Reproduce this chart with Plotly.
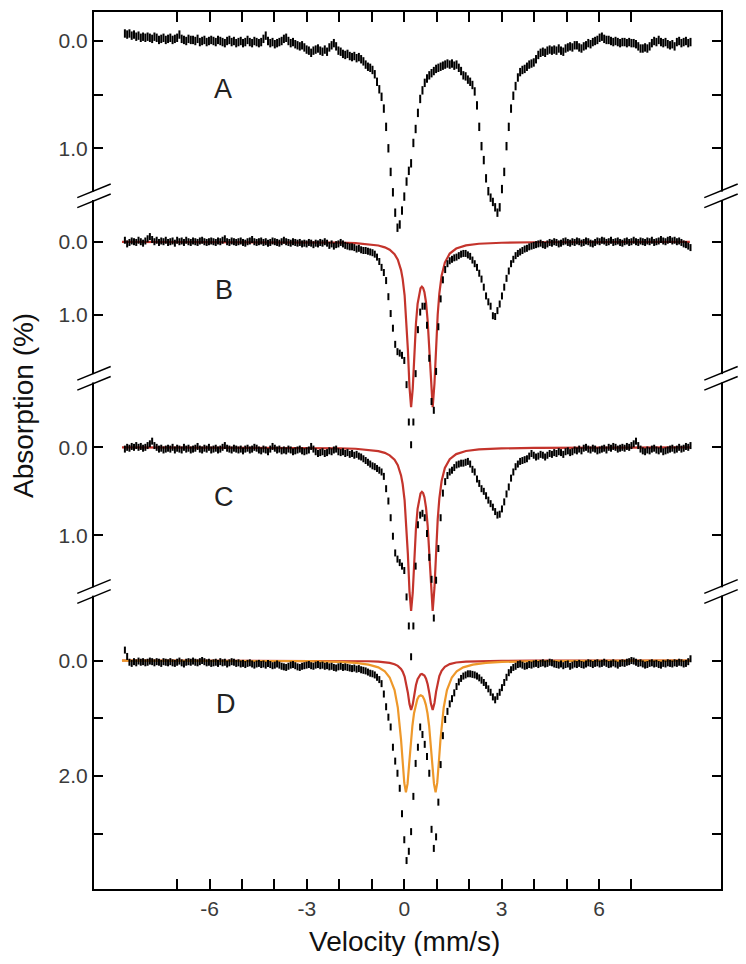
import plotly.graph_objects as go

# ---------------- data ----------------
VEL_START = -8.61   # mm/s, first channel
VEL_STEP = 0.07     # mm/s per channel

A_ABS = [
    -0.07, -0.06, -0.07, -0.05, -0.06, -0.04, -0.05, -0.03, -0.04, -0.03,
    -0.04, -0.03, -0.02, -0.04, -0.03, -0.01, -0.02, -0.03, -0.01, -0.02,
    -0.03, -0.01, -0.02, -0.03, -0.06, -0.02, -0.01, 0.00, -0.02, -0.01,
    -0.01, 0.00, -0.02, 0.01, 0.00, -0.01, 0.01, 0.00, -0.01, 0.00,
    0.01, -0.01, 0.00, 0.01, 0.02, 0.00, -0.01, 0.01, 0.00, 0.02,
    0.01, 0.00, 0.02, 0.01, -0.01, 0.01, 0.02, 0.00, 0.01, 0.02,
    0.01, -0.02, -0.05, 0.00, 0.02, 0.01, 0.03, 0.02, 0.01, 0.00,
    -0.02, -0.03, 0.00, 0.02, 0.01, 0.03, 0.04, 0.05, 0.04, 0.06,
    0.08, 0.09, 0.11, 0.09, 0.08, 0.07, 0.09, 0.10, 0.08, 0.10,
    0.06, 0.04, 0.02, 0.05, 0.09, 0.10, 0.12, 0.13, 0.12, 0.14,
    0.15, 0.14, 0.16, 0.15, 0.17, 0.19, 0.22, 0.24, 0.25, 0.27,
    0.31, 0.38, 0.45, 0.52, 0.63, 0.80, 1.00, 1.22, 1.41, 1.60,
    1.74, 1.71, 1.58, 1.45, 1.31, 1.21, 1.14, 0.95, 0.82, 0.67,
    0.54, 0.46, 0.39, 0.35, 0.32, 0.30, 0.28, 0.26, 0.25, 0.24,
    0.23, 0.22, 0.21, 0.22, 0.21, 0.23, 0.22, 0.25, 0.28, 0.32,
    0.33, 0.36, 0.38, 0.41, 0.47, 0.60, 0.80, 0.98, 1.11, 1.28,
    1.40, 1.46, 1.50, 1.55, 1.60, 1.55, 1.38, 1.22, 0.98, 0.80,
    0.63, 0.51, 0.42, 0.34, 0.29, 0.27, 0.26, 0.24, 0.22, 0.21,
    0.20, 0.17, 0.13, 0.11, 0.10, 0.11, 0.09, 0.08, 0.09, 0.08,
    0.09, 0.07, 0.09, 0.10, 0.07, 0.06, 0.05, 0.06, 0.04, 0.04,
    0.06, 0.07, 0.05, 0.04, 0.02, 0.03, 0.01, 0.00, -0.01, -0.03,
    -0.04, -0.02, -0.01, -0.01, 0.00, 0.01, 0.00, 0.01, 0.02, 0.01,
    0.01, 0.02, 0.01, 0.02, 0.02, 0.03, 0.05, 0.07, 0.07, 0.06,
    0.07, 0.05, 0.02, 0.00, 0.01, -0.01, 0.01, 0.02, 0.01, 0.03,
    0.04, 0.03, 0.05, 0.01, 0.00, 0.02, 0.01, 0.00, 0.02, 0.01,
]

B_ABS = [
    -0.02, 0.03, 0.01, -0.01, 0.00, 0.01, -0.02, 0.00, 0.02, -0.01,
    -0.04, -0.07, -0.03, 0.00, -0.02, 0.01, -0.01, 0.00, -0.02, 0.01,
    0.00, -0.01, 0.02, -0.02, 0.00, -0.01, 0.01, -0.02, 0.00, 0.01,
    -0.01, 0.00, 0.01, -0.01, -0.02, 0.00, 0.01, 0.00, -0.01, 0.00,
    0.01, -0.01, 0.00, -0.02, -0.04, 0.00, 0.01, -0.01, 0.00, 0.01,
    0.00, -0.01, 0.01, 0.02, 0.00, -0.01, -0.03, 0.00, 0.01, 0.00,
    -0.01, 0.01, 0.00, 0.02, 0.01, -0.01, 0.00, 0.01, 0.02, 0.00,
    -0.02, 0.00, 0.01, 0.02, 0.00, 0.01, 0.02, 0.01, 0.03, 0.02,
    0.03, 0.01, 0.02, 0.04, 0.02, 0.03, 0.01, 0.02, 0.00, 0.02,
    0.05, 0.03, 0.06, 0.04, 0.03, 0.01, 0.03, 0.05, 0.06, 0.07,
    0.07, 0.08, 0.10, 0.09, 0.11, 0.12, 0.12, 0.13, 0.14, 0.15,
    0.17, 0.21, 0.27, 0.35, 0.42, 0.53, 0.75, 0.98, 1.18, 1.40,
    1.50, 1.52, 1.55, 1.62, 1.95, 2.46, 2.77, 2.46, 1.80, 1.20,
    0.96, 0.88, 0.88, 1.14, 1.59, 2.18, 2.30, 1.77, 1.16, 0.78,
    0.52, 0.38, 0.30, 0.26, 0.24, 0.22, 0.21, 0.19, 0.17, 0.16,
    0.16, 0.18, 0.20, 0.25, 0.30, 0.35, 0.43, 0.51, 0.62, 0.74,
    0.82, 0.88, 1.01, 1.02, 0.94, 0.85, 0.74, 0.62, 0.50, 0.40,
    0.30, 0.24, 0.19, 0.16, 0.14, 0.12, 0.10, 0.09, 0.07, 0.06,
    0.05, 0.04, 0.03, 0.02, 0.04, 0.05, 0.03, 0.01, 0.02, 0.00,
    0.01, 0.03, 0.02, 0.00, -0.01, 0.01, 0.02, 0.00, 0.01, -0.01,
    0.00, 0.02, 0.01, -0.01, 0.00, 0.02, 0.03, 0.01, -0.01, 0.00,
    -0.02, -0.01, 0.01, 0.00, -0.02, 0.01, 0.00, -0.01, 0.01, 0.02,
    0.00, -0.01, 0.01, 0.00, -0.02, 0.00, 0.01, -0.01, 0.00, 0.01,
    -0.01, 0.00, -0.02, 0.01, 0.00, -0.01, -0.03, -0.01, 0.00, -0.02,
    -0.03, -0.01, -0.02, 0.00, -0.01, 0.01, 0.03, 0.04, 0.06, 0.08,
]

C_ABS = [
    0.02, 0.00, 0.01, -0.01, 0.00, -0.02, 0.00, -0.01, 0.01, 0.00,
    -0.02, -0.04, -0.07, -0.02, 0.00, 0.02, 0.01, 0.03, 0.02, 0.01,
    0.02, 0.00, 0.03, 0.01, 0.02, 0.03, 0.00, 0.02, 0.01, 0.03,
    0.02, 0.01, -0.01, 0.02, 0.03, 0.01, 0.02, 0.00, 0.03, 0.02,
    0.01, 0.03, 0.02, 0.00, -0.02, 0.01, 0.02, 0.03, 0.01, 0.02,
    0.03, 0.02, 0.04, 0.02, 0.01, 0.03, 0.02, 0.00, 0.01, 0.03,
    0.04, 0.02, 0.03, 0.05, 0.02, -0.01, 0.01, 0.03, 0.02, 0.04,
    0.03, 0.04, 0.02, 0.03, 0.05, 0.04, 0.03, 0.02, 0.04, 0.05,
    0.04, 0.03, -0.01, 0.02, 0.05, 0.07, 0.06, 0.05, 0.07, 0.06,
    0.04, 0.05, 0.03, 0.02, 0.05, 0.06, 0.05, 0.07, 0.06, 0.08,
    0.07, 0.09, 0.08, 0.10, 0.11, 0.13, 0.15, 0.17, 0.19, 0.21,
    0.22, 0.24, 0.26, 0.28, 0.33, 0.47, 0.61, 0.80, 1.01, 1.20,
    1.27, 1.31, 1.35, 1.40, 1.70, 2.03, 2.38, 2.03, 1.35, 0.88,
    0.77, 0.75, 0.80, 0.98, 1.25, 1.50, 1.94, 1.51, 1.15, 0.80,
    0.52, 0.39, 0.32, 0.28, 0.26, 0.23, 0.20, 0.19, 0.18, 0.18,
    0.17, 0.16, 0.19, 0.25, 0.28, 0.36, 0.41, 0.47, 0.50, 0.55,
    0.60, 0.64, 0.68, 0.73, 0.77, 0.76, 0.70, 0.62, 0.53, 0.45,
    0.35, 0.28, 0.22, 0.19, 0.16, 0.15, 0.14, 0.13, 0.10, 0.07,
    0.09, 0.11, 0.10, 0.08, 0.09, 0.11, 0.09, 0.07, 0.08, 0.06,
    0.07, 0.05, 0.06, 0.08, 0.05, 0.04, 0.06, 0.05, 0.03, 0.04,
    0.02, 0.04, 0.01, 0.00, 0.02, 0.03, 0.01, 0.02, 0.04, 0.03,
    0.02, 0.01, 0.03, 0.00, 0.01, -0.01, 0.00, 0.02, 0.01, 0.00,
    0.01, -0.01, 0.00, -0.02, -0.04, -0.07, -0.02, 0.02, 0.04, 0.05,
    0.03, 0.04, 0.02, 0.01, 0.03, 0.04, 0.02, 0.05, 0.04, 0.03,
    0.02, 0.01, 0.03, 0.02, 0.00, 0.02, 0.01, -0.01, 0.00, -0.02,
]

D_ABS = [
    -0.18, -0.07, 0.03, 0.05, 0.02, 0.04, 0.01, 0.03, 0.02, 0.04,
    0.03, 0.01, 0.02, 0.04, 0.02, 0.03, 0.05, 0.02, 0.03, 0.04,
    0.02, 0.04, 0.05, 0.03, 0.01, 0.04, 0.06, 0.03, 0.02, 0.03,
    0.01, 0.03, 0.04, 0.02, 0.00, 0.02, 0.04, 0.03, 0.05, 0.04,
    0.03, 0.05, 0.02, 0.04, 0.03, 0.06, 0.04, 0.02, 0.03, 0.05,
    0.04, 0.06, 0.05, 0.07, 0.05, 0.04, 0.06, 0.08, 0.06, 0.05,
    0.07, 0.06, 0.08, 0.05, 0.07, 0.09, 0.08, 0.06, 0.08, 0.10,
    0.11, 0.12, 0.10, 0.08, 0.07, 0.09, 0.11, 0.12, 0.10, 0.09,
    0.08, 0.07, 0.09, 0.10, 0.08, 0.07, 0.09, 0.08, 0.10, 0.09,
    0.11, 0.10, 0.12, 0.13, 0.11, 0.10, 0.12, 0.11, 0.12, 0.13,
    0.14, 0.13, 0.15, 0.14, 0.16, 0.17, 0.18, 0.20, 0.22, 0.23,
    0.25, 0.29, 0.33, 0.40, 0.58, 0.80, 0.98, 1.15, 1.50, 1.74,
    1.95, 2.21, 2.65, 3.10, 3.46, 3.30, 2.96, 2.35, 1.78, 1.50,
    1.15, 1.28, 1.45, 1.66, 1.95, 2.92, 3.25, 3.05, 2.45, 1.80,
    1.30, 1.02, 0.88, 0.75, 0.66, 0.56, 0.45, 0.37, 0.31, 0.27,
    0.25, 0.23, 0.23, 0.24, 0.25, 0.27, 0.30, 0.34, 0.38, 0.43,
    0.49, 0.55, 0.63, 0.68, 0.62, 0.55, 0.47, 0.38, 0.29, 0.21,
    0.16, 0.12, 0.10, 0.07, 0.06, 0.08, 0.10, 0.09, 0.07, 0.08,
    0.06, 0.05, 0.07, 0.05, 0.04, 0.06, 0.05, 0.03, 0.04, 0.06,
    0.07, 0.08, 0.06, 0.09, 0.07, 0.06, 0.10, 0.08, 0.06, 0.07,
    0.05, 0.07, 0.08, 0.06, 0.04, 0.05, 0.07, 0.05, 0.04, 0.06,
    0.05, 0.03, 0.05, 0.07, 0.06, 0.04, 0.06, 0.08, 0.05, 0.04,
    0.05, 0.03, 0.02, 0.00, 0.01, 0.03, 0.05, 0.04, 0.06, 0.08,
    0.07, 0.05, 0.04, 0.06, 0.05, 0.07, 0.08, 0.05, 0.06, 0.04,
    0.05, 0.06, 0.04, 0.05, 0.03, 0.04, 0.06, 0.05, 0.02, -0.03,
]

# fitted quadrupole doublets (red), sampled along the curve
FIT_RED_V = [
    -8.7, -5.0, -3.0, -2.0, -1.5, -1.1, -0.8, -0.6, -0.45, -0.3, -0.2, -0.1,
    -0.05, 0.01, 0.06, 0.11, 0.16, 0.21, 0.26, 0.31, 0.36, 0.41, 0.46, 0.5,
    0.5425, 0.58, 0.62, 0.67, 0.72, 0.77, 0.82, 0.875, 0.93, 0.98, 1.03, 1.08,
    1.15, 1.25, 1.4, 1.6, 1.9, 2.3, 3.0, 4.0, 6.0, 8.8,
]
FIT_B_RED = [
    0.001, 0.003, 0.007, 0.013, 0.020, 0.033, 0.052, 0.077, 0.110, 0.170, 0.246, 0.387,
    0.506, 0.731, 1.030, 1.467, 1.982, 2.256, 2.007, 1.519, 1.112, 0.848, 0.698, 0.635,
    0.614, 0.631, 0.687, 0.829, 1.078, 1.471, 1.962, 2.256, 1.934, 1.417, 0.993, 0.707,
    0.465, 0.285, 0.162, 0.093, 0.051, 0.028, 0.014, 0.007, 0.003, 0.001,
]
FIT_C_RED = [
    0.001, 0.002, 0.006, 0.011, 0.016, 0.027, 0.043, 0.063, 0.091, 0.140, 0.203, 0.319,
    0.417, 0.603, 0.849, 1.210, 1.634, 1.860, 1.655, 1.252, 0.917, 0.699, 0.576, 0.524,
    0.506, 0.520, 0.566, 0.684, 0.889, 1.213, 1.618, 1.860, 1.595, 1.168, 0.819, 0.583,
    0.383, 0.235, 0.134, 0.077, 0.042, 0.023, 0.012, 0.006, 0.002, 0.001,
]
FIT_D_RED = [
    0.000, 0.001, 0.003, 0.005, 0.008, 0.013, 0.020, 0.029, 0.042, 0.065, 0.093, 0.147,
    0.192, 0.278, 0.391, 0.557, 0.753, 0.857, 0.763, 0.577, 0.423, 0.322, 0.265, 0.241,
    0.233, 0.240, 0.261, 0.315, 0.410, 0.559, 0.746, 0.857, 0.735, 0.538, 0.377, 0.269,
    0.177, 0.108, 0.062, 0.035, 0.019, 0.011, 0.005, 0.003, 0.001, 0.000,
]
# second doublet (orange) in spectrum D
FIT_ORANGE_V = [
    -8.7, -5.0, -3.0, -2.0, -1.5, -1.1, -0.8, -0.6, -0.45, -0.3, -0.2, -0.1,
    -0.05, 0.0, 0.05, 0.1, 0.15, 0.2, 0.25, 0.3, 0.35, 0.4, 0.45, 0.5075,
    0.565, 0.615, 0.665, 0.715, 0.765, 0.815, 0.865, 0.915, 0.965, 1.015, 1.065, 1.115,
    1.215, 1.315, 1.465, 1.615, 1.815, 2.115, 2.515, 3.015, 4.015, 6.015, 8.8,
]
FIT_D_ORANGE = [
    0.002, 0.005, 0.012, 0.025, 0.042, 0.071, 0.119, 0.189, 0.293, 0.512, 0.812, 1.369,
    1.755, 2.118, 2.280, 2.135, 1.791, 1.424, 1.129, 0.913, 0.767, 0.674, 0.619, 0.600,
    0.619, 0.674, 0.767, 0.913, 1.129, 1.424, 1.791, 2.135, 2.280, 2.118, 1.755, 1.369,
    0.812, 0.512, 0.293, 0.189, 0.119, 0.071, 0.042, 0.025, 0.012, 0.005, 0.002,
]

PANEL_LABELS = ["A", "B", "C", "D"]
X_TICKS = [-7, -6, -5, -4, -3, -2, -1, 0, 1, 2, 3, 4, 5, 6, 7]
X_TICK_TEXT = ["", "-6", "", "", "-3", "", "", "0", "", "", "3", "", "", "6", ""]
Y_TICKS = {
    "A": ([0.0, 0.5, 1.0], ["0.0", "", "1.0"]),
    "B": ([0.0, 1.0], ["0.0", "1.0"]),
    "C": ([0.0, 1.0], ["0.0", "1.0"]),
    "D": ([0.0, 1.0, 2.0, 3.0], ["0.0", "", "2.0", ""]),
}
X_TITLE = "Velocity (mm/s)"
Y_TITLE = "Absorption (%)"

# ---------------- figure geometry ----------------
# the page body has an 8 px margin, so the figure is placed at (8, 8)
BODY = 8
W, H = 746 - 2 * BODY, 964 - 2 * BODY
PLOT_L, PLOT_R, PLOT_T, PLOT_B = 94, 721, 12, 889     # screen pixels of plot area
ML, MT = PLOT_L - BODY, PLOT_T - BODY
MR = BODY + W - PLOT_R
MB = BODY + H - PLOT_B
PW, PH = PLOT_R - PLOT_L, PLOT_B - PLOT_T
FONT = "Liberation Sans, Arial, sans-serif"
RED = "rgb(196,52,44)"
ORANGE = "rgb(238,152,42)"

vel = [round(VEL_START + i * VEL_STEP, 4) for i in range(len(A_ABS))]


def px_x(px):
    return (px - PLOT_L) / PW


def px_y(py):
    return (PLOT_B - py) / PH


fig = go.Figure()

# fit curves first (data drawn on top)
fig.add_trace(go.Scatter(x=FIT_RED_V, y=FIT_B_RED, yaxis="y2", mode="lines",
                         line=dict(color=RED, width=2.2), hoverinfo="skip"))
fig.add_trace(go.Scatter(x=FIT_RED_V, y=FIT_C_RED, yaxis="y3", mode="lines",
                         line=dict(color=RED, width=2.2), hoverinfo="skip"))
fig.add_trace(go.Scatter(x=FIT_RED_V, y=FIT_D_RED, yaxis="y4", mode="lines",
                         line=dict(color=RED, width=2.2), hoverinfo="skip"))
fig.add_trace(go.Scatter(x=FIT_ORANGE_V, y=FIT_D_ORANGE, yaxis="y4", mode="lines",
                         line=dict(color=ORANGE, width=2.2), hoverinfo="skip"))

dash_size = {"y": 6, "y2": 5, "y3": 5, "y4": 5}
for vals, ax in [(A_ABS, "y"), (B_ABS, "y2"), (C_ABS, "y3"), (D_ABS, "y4")]:
    fig.add_trace(go.Scatter(
        x=vel, y=vals, yaxis=ax, mode="markers", cliponaxis=False,
        marker=dict(symbol="line-ns", size=dash_size[ax], color="black",
                    line=dict(color="black", width=2)),
        hoverinfo="skip"))

common_y = dict(domain=[0, 1], anchor="x", showline=True, linewidth=2,
                linecolor="black", mirror="ticks", ticks="inside", ticklen=9,
                tickwidth=2, tickcolor="black", showgrid=False, zeroline=False,
                automargin=False,
                tickfont=dict(family=FONT, size=21, color="#3a3a3a"))

ranges = {"A": [7.903, -0.2703], "B": [8.831, -3.134],
          "C": [5.019, -4.947], "D": [3.952, -11.216]}

layout_axes = {}
for i, lab in enumerate(PANEL_LABELS):
    name = "yaxis" if i == 0 else f"yaxis{i + 1}"
    d = dict(common_y)
    d.update(range=ranges[lab], tickmode="array",
             tickvals=Y_TICKS[lab][0], ticktext=Y_TICKS[lab][1])
    if i > 0:
        d["overlaying"] = "y"
    layout_axes[name] = d

annotations = []
label_pos = {"A": (223, 88.5), "B": (224, 290), "C": (224, 497), "D": (226, 703.5)}
for lab in PANEL_LABELS:
    px, py = label_pos[lab]
    annotations.append(dict(text=lab, x=px_x(px), y=px_y(py), xref="paper", yref="paper",
                            showarrow=False, xanchor="center", yanchor="middle",
                            font=dict(family=FONT, size=27, color="#222")))
annotations.append(dict(text=X_TITLE, x=px_x(404), y=px_y(941), xref="paper", yref="paper",
                        showarrow=False, xanchor="center", yanchor="middle",
                        font=dict(family=FONT, size=28, color="#111")))
annotations.append(dict(text=Y_TITLE, x=px_x(23), y=px_y(406), xref="paper", yref="paper",
                        showarrow=False, xanchor="center", yanchor="middle", textangle=-90,
                        font=dict(family=FONT, size=28, color="#111")))

# axis-break marks (//) on both vertical axes
shapes = []
for by in [195.8, 378.3, 591.5]:
    for bx in [PLOT_L, PLOT_R]:
        shapes.append(dict(type="rect", xref="paper", yref="paper", layer="above",
                           x0=px_x(bx - 3), x1=px_x(bx + 3),
                           y0=px_y(by - 4.2), y1=px_y(by + 4.2),
                           fillcolor="white", line=dict(width=0)))
        for off in (-5, 5):
            cy = by + off
            shapes.append(dict(type="line", xref="paper", yref="paper", layer="above",
                               x0=px_x(bx - 16.7), y0=px_y(cy + 6.85),
                               x1=px_x(bx + 16.7), y1=px_y(cy - 6.85),
                               line=dict(color="black", width=1.5)))

fig.update_layout(
    width=W, height=H,
    margin=dict(l=ML, r=MR, t=MT, b=MB, pad=0, autoexpand=False),
    paper_bgcolor="white", plot_bgcolor="white",
    showlegend=False,
    xaxis=dict(domain=[0, 1], anchor="y", range=[-9.562, 9.760],
               showline=True, linewidth=2, linecolor="black", mirror="ticks",
               ticks="inside", ticklen=10, tickwidth=2, tickcolor="black",
               tickmode="array", tickvals=X_TICKS, ticktext=X_TICK_TEXT,
               showgrid=False, zeroline=False, automargin=False,
               tickfont=dict(family=FONT, size=21, color="#3a3a3a")),
    annotations=annotations,
    shapes=shapes,
    **layout_axes,
)

fig.write_html("out.html")
